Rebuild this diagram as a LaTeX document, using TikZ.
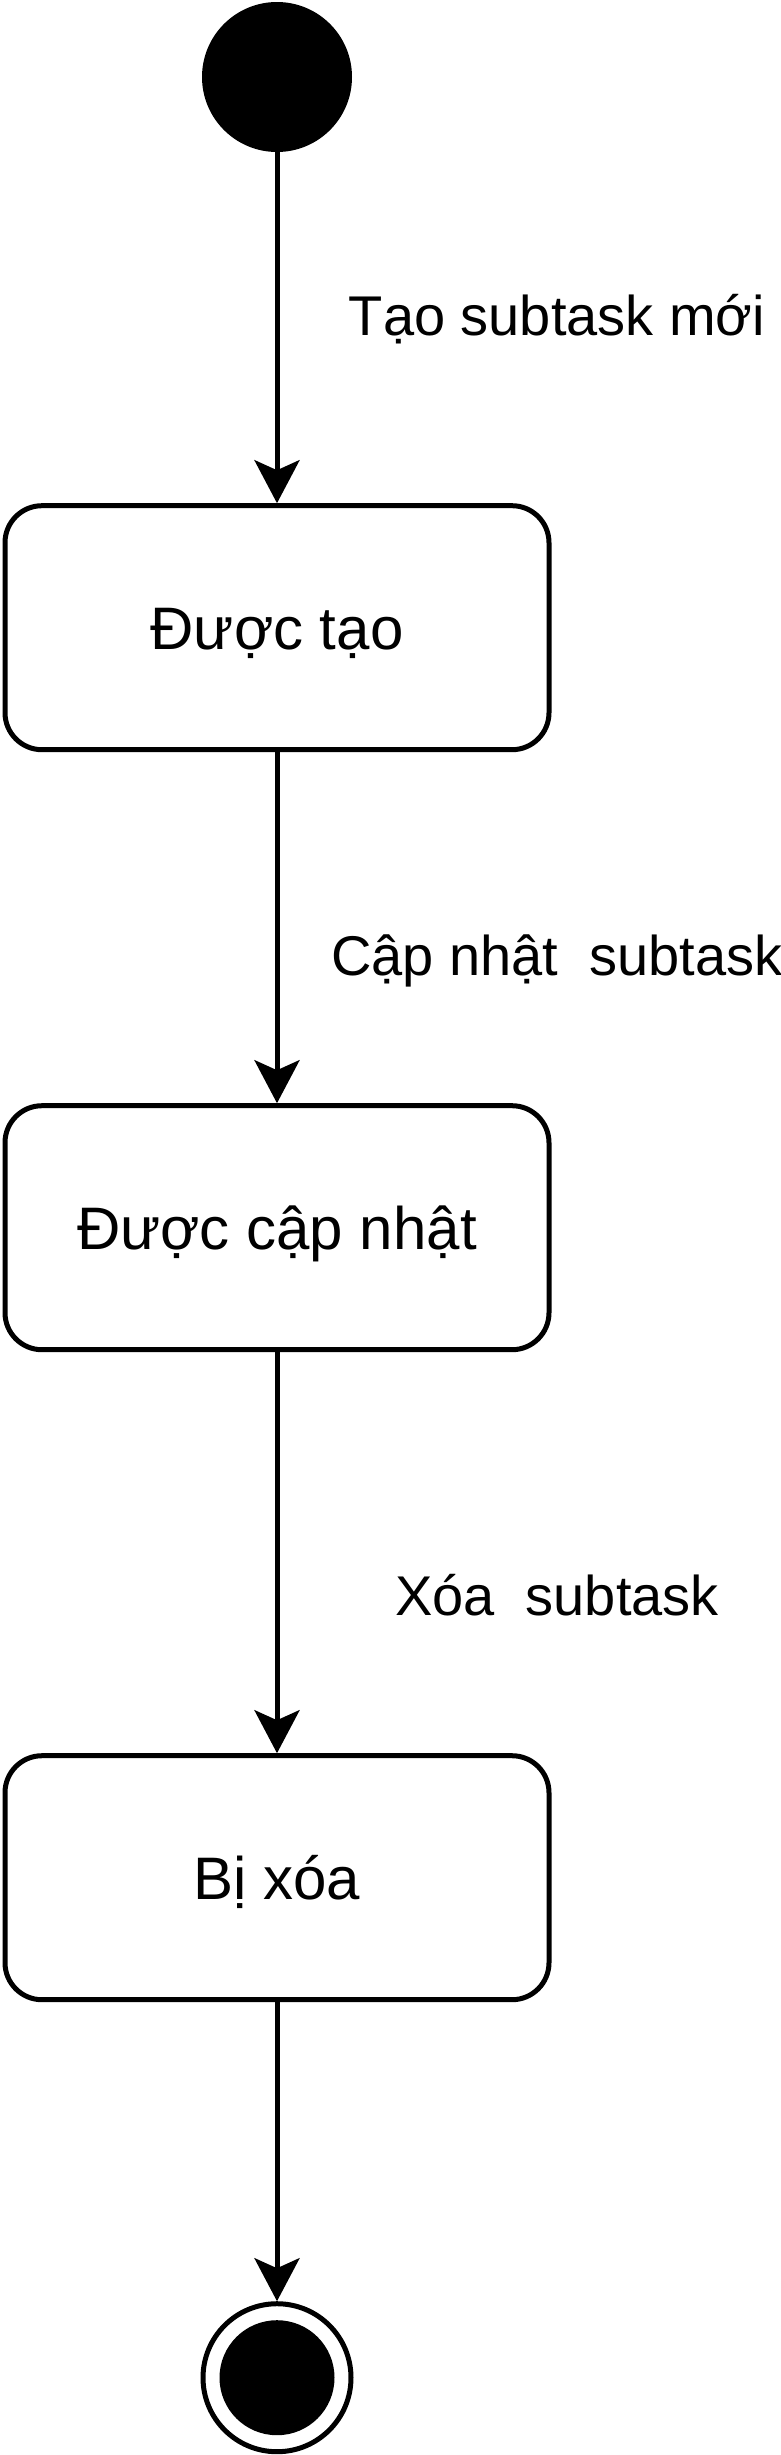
\documentclass[tikz,border=0pt]{standalone}
\usepackage{fontspec}
\setmainfont{Liberation Sans}
\usetikzlibrary{positioning,arrows.meta}

\begin{document}
\begin{tikzpicture}
[
    x=1pt, y=-1pt,
    initialstate/.style={circle, fill=black, minimum size=150pt, inner sep=0pt},
    finalstate/.style={circle, draw, line width=5pt, minimum size=148pt, inner sep=0pt},
    state/.style={draw, rounded corners=37pt, line width=5pt, minimum width=544pt,
        minimum height=244pt, text height=43pt, text depth=0pt,
        font=\fontsize{60}{72}\selectfont},
    event/.style={anchor=base, font=\fontsize{56}{67}\selectfont},
    trans/.style={line width=5pt, -{Stealth[length=43pt, width=45pt, inset=10pt]}},
]
\useasboundingbox (0,0) rectangle (780,2455);

% states
\node [initialstate] (start) at (277,77) {};
\node [state, below=351pt of start] (created) {Được tạo};
\node [state, below=351pt of created] (updated) {Được cập nhật};
\node [state, below=401pt of updated] (deleted) {Bị xóa};
\node [finalstate, below=299pt of deleted] (end) {};
\fill (end.center) circle (57.5pt);

% transitions
\draw [trans] (start) -- (created);
\draw [trans] (created) -- (updated);
\draw [trans] (updated) -- (deleted);
\draw [trans] (deleted) -- (end);

% events
\node [event] (evcreate) at (557,335) {Tạo subtask mới};
\node [event] (evupdate) at (557,975) {Cập nhật\ \ subtask};
\node [event] (evdelete) at (557,1615) {Xóa\ \ subtask};
\end{tikzpicture}
\end{document}
